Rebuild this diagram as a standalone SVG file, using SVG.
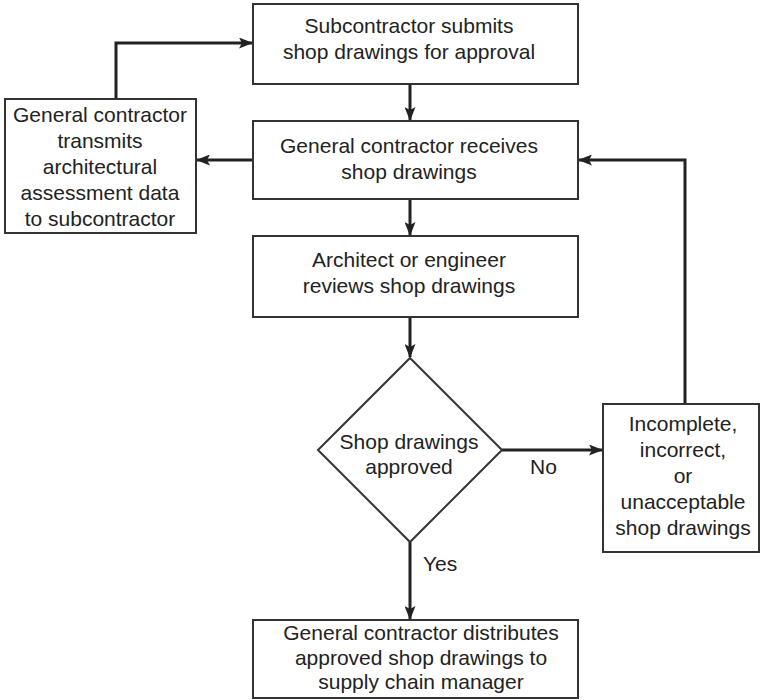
<svg xmlns="http://www.w3.org/2000/svg" width="766" height="700" viewBox="0 0 766 700">
<defs>
<marker id="ah" markerWidth="14" markerHeight="11" refX="13" refY="5.5" orient="auto" markerUnits="userSpaceOnUse">
<path d="M0,0 L14,5.5 L0,11 L3,5.5 z" fill="#222"/>
</marker>
<style>
.box{fill:#fff;stroke:#333;stroke-width:2}
.t{font-family:"Liberation Sans",Arial,sans-serif;font-size:21px;fill:#222;text-anchor:middle}
.lbl{font-family:"Liberation Sans",Arial,sans-serif;font-size:21px;fill:#222}
.c{fill:none;stroke:#222;stroke-width:3;marker-end:url(#ah)}
</style>
</defs>
<rect width="766" height="700" fill="#fff"/>
<g id="connectors">
<path class="c" d="M410,84 V120"/>
<path class="c" d="M410,199 V235"/>
<path class="c" d="M410,317 V357"/>
<path class="c" d="M253,160 H197"/>
<path class="c" d="M116,99 V43 H252"/>
<path class="c" d="M502,450 H602"/>
<path class="c" d="M685,404 V160 H579"/>
<path class="c" d="M410,542 V619"/>
<text class="lbl" x="530" y="474">No</text>
<text class="lbl" x="423" y="571">Yes</text>
</g>
<g id="n-submit">
<rect class="box" x="253" y="4" width="325" height="80"/>
<text class="t" x="409" y="33">Subcontractor submits</text>
<text class="t" x="409" y="59">shop drawings for approval</text>
</g>
<g id="n-receive">
<rect class="box" x="253" y="121" width="325" height="78"/>
<text class="t" x="409" y="153">General contractor receives</text>
<text class="t" x="409" y="179">shop drawings</text>
</g>
<g id="n-transmit">
<rect class="box" x="5" y="99" width="191" height="134"/>
<text class="t" x="100" y="122">General contractor</text>
<text class="t" x="100" y="148">transmits</text>
<text class="t" x="100" y="174">architectural</text>
<text class="t" x="100" y="200">assessment data</text>
<text class="t" x="100" y="226">to subcontractor</text>
</g>
<g id="n-review">
<rect class="box" x="253" y="236" width="325" height="81"/>
<text class="t" x="409" y="267">Architect or engineer</text>
<text class="t" x="409" y="293">reviews shop drawings</text>
</g>
<g id="n-decision">
<polygon class="box" points="410,358 502,450 410,542 318,450"/>
<text class="t" x="409" y="449">Shop drawings</text>
<text class="t" x="409" y="474">approved</text>
</g>
<g id="n-reject">
<rect class="box" x="603" y="404" width="156" height="148"/>
<text class="t" x="683" y="431">Incomplete,</text>
<text class="t" x="683" y="457">incorrect,</text>
<text class="t" x="683" y="483">or</text>
<text class="t" x="683" y="509">unacceptable</text>
<text class="t" x="683" y="535">shop drawings</text>
</g>
<g id="n-distribute">
<rect class="box" x="253" y="620" width="325" height="78"/>
<text class="t" x="421" y="640">General contractor distributes</text>
<text class="t" x="421" y="665">approved shop drawings to</text>
<text class="t" x="421" y="689">supply chain manager</text>
</g>
</svg>
